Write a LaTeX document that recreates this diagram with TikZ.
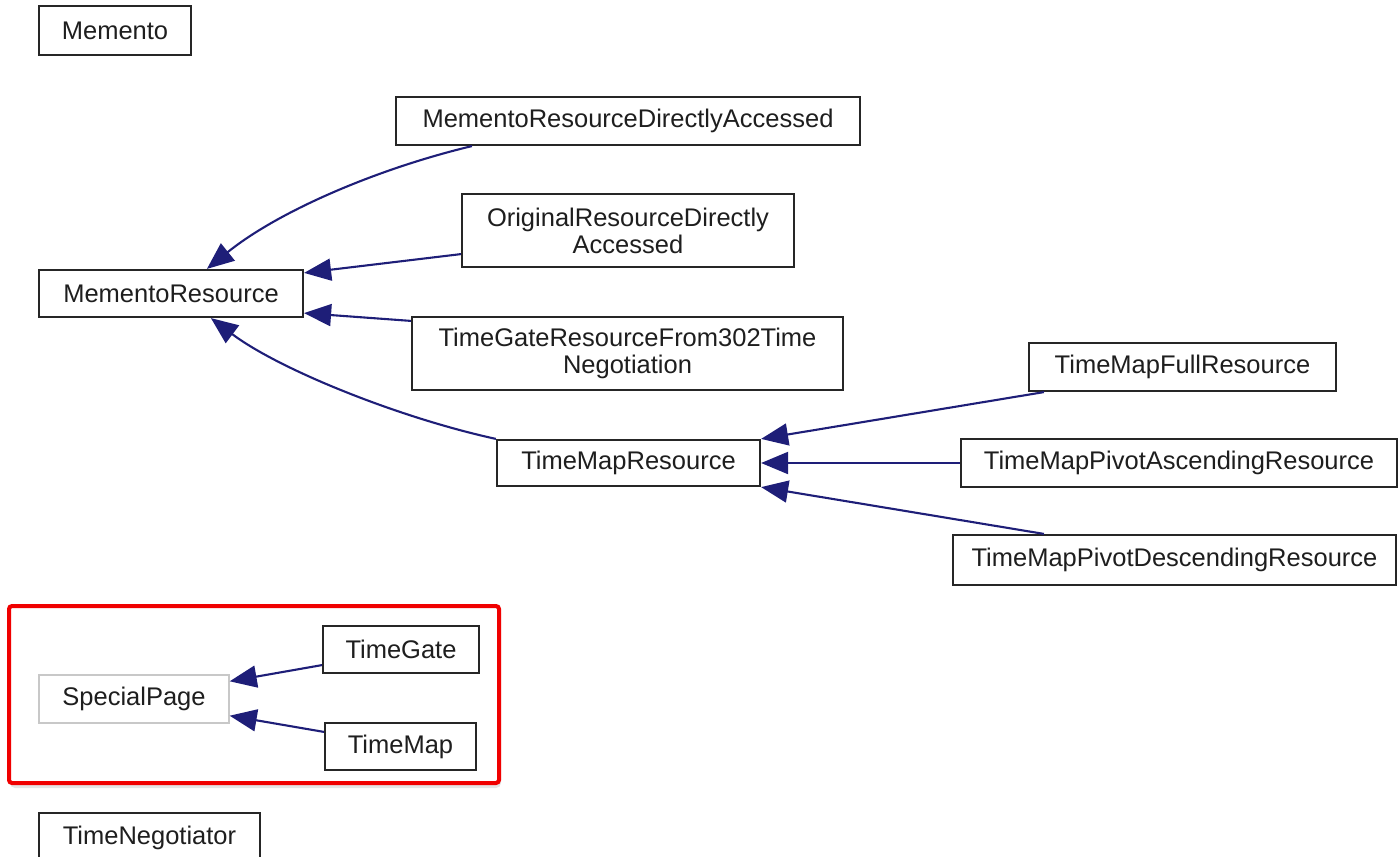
\documentclass[tikz,border=0pt]{standalone}
\usepackage{fontspec}
\setmainfont{Liberation Sans}
\usetikzlibrary{arrows.meta,calc}
\definecolor{edgeblue}{RGB}{30,30,120}
\definecolor{boxtext}{RGB}{30,30,30}
\definecolor{graybox}{RGB}{200,200,200}
\definecolor{hilite}{RGB}{240,0,0}
\tikzset{
  cls/.style={draw=black!85, line width=2.2pt, rectangle, inner sep=0pt,
    text=boxtext, align=center, font=\fontsize{25.5}{27}\selectfont},
  inherit/.style={draw=edgeblue, line width=2.1pt,
    -{Triangle[length=27pt,width=22pt]}},
}
\begin{document}
\begin{tikzpicture}[x=1pt,y=-1pt]
\useasboundingbox (0,0) rectangle (1398,857);
\clip (0,0) rectangle (1398,857);

% soft shadow under the highlight frame, then its white ground
\coordinate (hlA) at (9,606);
\coordinate (hlB) at (499,783);
\fill[black, opacity=0.10, rounded corners=5pt] ($(hlA)+(1,2)$) rectangle ($(hlB)+(2,5)$);
\fill[white, rounded corners=3pt] (hlA) rectangle (hlB);

% class boxes
\node[cls, minimum width=152, minimum height=49] (memento) at (115,30.5) {Memento};
\node[cls, minimum width=264, minimum height=47] (mr) at (171,293.5) {MementoResource};
\node[cls, minimum width=464, minimum height=48] (mrda) at (628,121) {MementoResourceDirectlyAccessed};
\node[cls, minimum width=332, minimum height=73] (orda) at (628,230.5) {OriginalResourceDirectly\\Accessed};
\node[cls, minimum width=431, minimum height=73] (tgr) at (627.5,353.5) {TimeGateResourceFrom302Time\\Negotiation};
\node[cls, minimum width=263, minimum height=46] (tmr) at (628.5,463) {TimeMapResource};
\node[cls, minimum width=307, minimum height=48] (tmfr) at (1182.5,367) {TimeMapFullResource};
\node[cls, minimum width=436, minimum height=48] (tmpa) at (1179,463) {TimeMapPivotAscendingResource};
\node[cls, minimum width=443, minimum height=50] (tmpd) at (1174.5,560) {TimeMapPivotDescendingResource};
\node[cls, draw=graybox, line width=1.4pt, minimum width=190, minimum height=48] (sp) at (134,699) {SpecialPage};
\node[cls, minimum width=156, minimum height=47] (tg) at (401,649.5) {TimeGate};
\node[cls, minimum width=151, minimum height=47] (tm) at (400.5,746.5) {TimeMap};
\node[cls, minimum width=221, minimum height=49] (tn) at (149.5,837.5) {TimeNegotiator};

% inheritance edges (child -> parent)
\draw[inherit] ($(mrda.south west)+(77,0)$)
  .. controls (380,168) and (280,210) .. ($(mr.north west)+(169,0)$);
\draw[inherit] ($(orda.south west)+(0,-14)$) -- ($(mr.north east)+(0,4)$);
\draw[inherit] ($(tgr.north west)+(0,5)$) -- ($(mr.south east)+(0,-5)$);
\draw[inherit] (tmr.north west)
  .. controls (400,418) and (280,370) .. ($(mr.south west)+(173,0)$);
\draw[inherit] ($(tmfr.south west)+(16,0)$) -- (tmr.north east);
\draw[inherit] (tmpa.west) -- (tmr.east);
\draw[inherit] ($(tmpd.north west)+(92,0)$) -- (tmr.south east);
\draw[inherit] ($(tg.south west)+(0,-9)$) -- ($(sp.north east)+(0,7)$);
\draw[inherit] ($(tm.north west)+(0,10)$) -- ($(sp.south east)+(0,-8)$);

% highlight frame round the SpecialPage group
\draw[hilite, line width=4pt, rounded corners=3pt] (hlA) rectangle (hlB);
\end{tikzpicture}
\end{document}
